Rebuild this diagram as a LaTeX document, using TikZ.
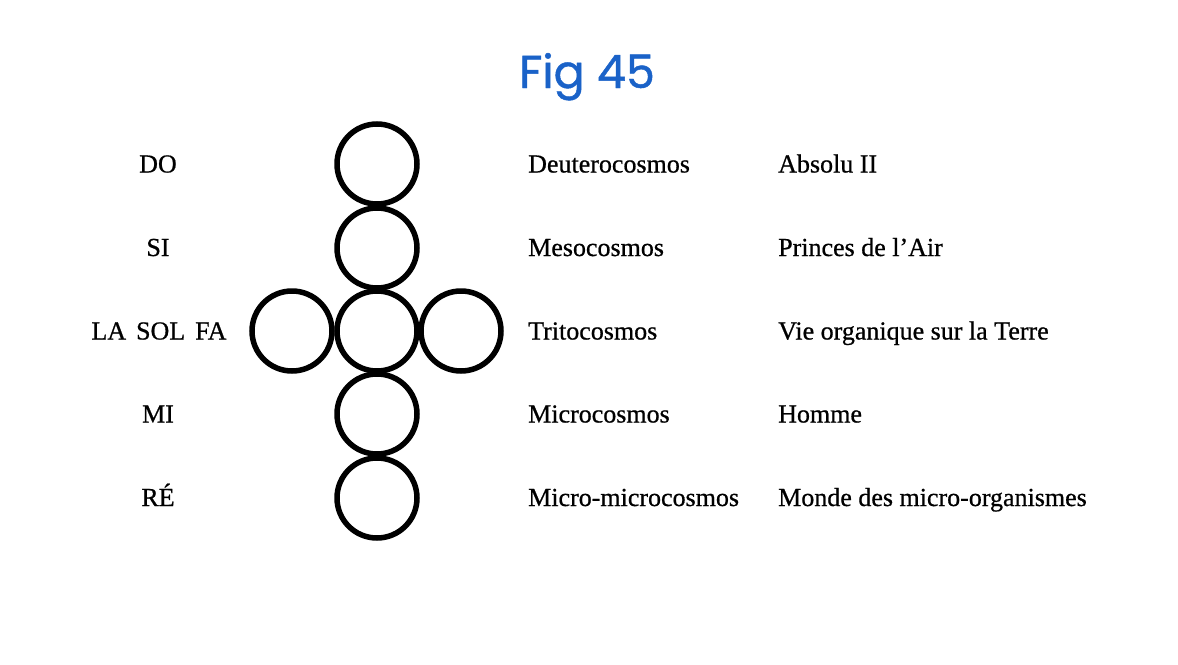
\documentclass[tikz,border=0pt]{standalone}
\usepackage{fontspec}
\setmainfont[FakeBold=0.7]{Liberation Serif}
\newfontfamily\titlefont[FakeBold=1]{Poppins}
\definecolor{titleblue}{RGB}{26,98,200}
\begin{document}
\begin{tikzpicture}[x=1pt,y=-1pt,
  ring/.style={circle,draw=black,line width=5.5pt,minimum size=80pt,inner sep=0pt},
  lbl/.style={font=\fontsize{26}{30}\selectfont,inner sep=0pt},
  note/.style={lbl,anchor=base west},
  tone/.style={lbl,anchor=base}]
\useasboundingbox (0,0) rectangle (1178,664);
\node[font=\titlefont\fontsize{46}{52}\selectfont,text=titleblue,anchor=base,inner sep=0pt] (title) at (587,88) {Fig 45};
% circles
\node[ring] (c1) at (377,164) {};
\node[ring] (c2) at (377,248) {};
\node[ring] (c3) at (377,331) {};
\node[ring] (c4) at (377,414) {};
\node[ring] (c5) at (377,498) {};
\node[ring] (cl) at (292,331) {};
\node[ring] (cr) at (461,331) {};
% tones
\node[tone] (t1) at (158,172.5) {DO};
\node[tone] (t2) at (158,256) {SI};
\node[tone] (t3) at (159,339.5) {LA\hspace{10pt}SOL\hspace{10pt}FA};
\node[tone] (t4) at (158,422.5) {MI};
\node[tone] (t5) at (158,506) {RÉ};
% cosmoses
\node[note] (k1) at (528,172.5) {Deuterocosmos};
\node[note] (k2) at (528,256) {Mesocosmos};
\node[note] (k3) at (528,339.5) {Tritocosmos};
\node[note] (k4) at (528,422.5) {Microcosmos};
\node[note] (k5) at (528,506) {Micro-microcosmos};
% descriptions
\node[note] (d1) at (778,172.5) {Absolu II};
\node[note] (d2) at (778,256) {Princes de l’Air};
\node[note] (d3) at (778,339.5) {Vie organique sur la Terre};
\node[note] (d4) at (778,422.5) {Homme};
\node[note] (d5) at (778,506) {Monde des micro-organismes};
\end{tikzpicture}
\end{document}
